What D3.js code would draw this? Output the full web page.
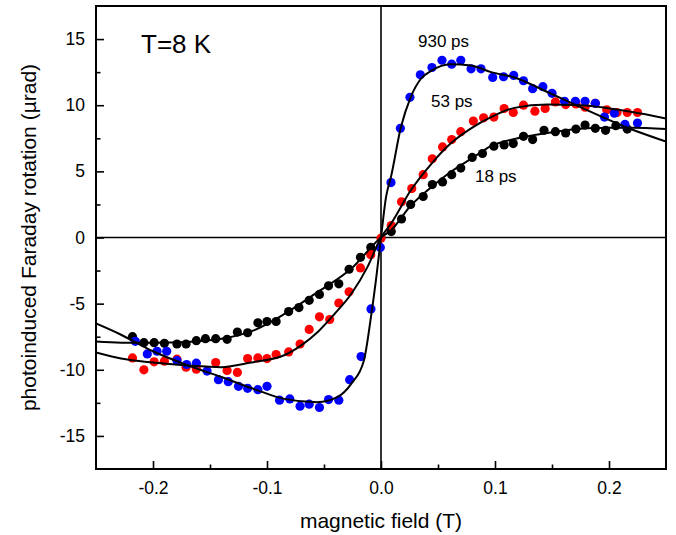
<!DOCTYPE html>
<html><head><meta charset="utf-8">
<script src="https://cdn.jsdelivr.net/npm/d3@7"></script>
<style>body{margin:0;background:#fff}svg{display:block}text{font-family:"Liberation Sans",Arial,sans-serif}</style>
</head><body><svg id="c" width="676" height="535"></svg>
<script>
// ---- data ----
const xTicksMajor = [-0.2, -0.1, 0.0, 0.1, 0.2];
const yTicksMajor = [-15, -10, -5, 0, 5, 10, 15];

const black18x = [-0.218,-0.208,-0.199,-0.190,-0.179,-0.171,-0.162,-0.154,-0.145,-0.135,-0.126,-0.117,-0.108,-0.100,-0.092,-0.081,-0.072,-0.063,-0.054,-0.046,-0.037,-0.028,-0.018,-0.009,0.009,0.018,0.026,0.037,0.045,0.054,0.062,0.070,0.080,0.089,0.099,0.108,0.116,0.125,0.133,0.143,0.153,0.162,0.171,0.179,0.188,0.197,0.206,0.216];
const black18y = [-7.5,-7.95,-7.95,-8.0,-8.05,-8.05,-7.8,-7.65,-7.65,-7.7,-7.15,-7.2,-6.45,-6.35,-6.35,-5.6,-5.3,-4.75,-4.3,-3.65,-3.5,-2.4,-1.5,-0.75,0.45,1.4,2.5,3.1,4.0,4.2,4.75,5.25,6.05,6.35,6.9,7.0,7.1,7.65,7.4,8.1,8.0,7.9,8.2,8.5,8.25,8.1,8.45,8.2];

const red53x = [-0.218,-0.208,-0.199,-0.190,-0.179,-0.171,-0.162,-0.145,-0.135,-0.126,-0.117,-0.108,-0.100,-0.092,-0.081,-0.071,-0.063,-0.054,-0.045,-0.037,-0.028,-0.018,-0.009,0,0.009,0.018,0.027,0.037,0.045,0.054,0.062,0.070,0.081,0.090,0.099,0.108,0.116,0.125,0.135,0.144,0.153,0.162,0.171,0.179,0.188,0.198,0.207,0.216,0.225];
const red53y = [-9.1,-10.0,-9.4,-9.35,-9.2,-9.8,-9.95,-9.45,-10.05,-10.2,-9.15,-9.1,-9.15,-8.85,-8.65,-8.05,-6.95,-6.0,-6.2,-4.95,-4.1,-2.3,-1.3,-0.05,0.9,2.7,3.7,4.75,5.95,6.85,7.4,8.0,8.8,9.05,9.1,9.75,9.45,10.0,9.55,9.75,10.25,10.05,10.1,9.85,10.15,9.65,9.45,9.45,9.45];

const blue930x = [-0.2155,-0.205,-0.1965,-0.188,-0.179,-0.1705,-0.162,-0.1526,-0.1426,-0.134,-0.125,-0.117,-0.108,-0.100,-0.089,-0.080,-0.071,-0.063,-0.054,-0.046,-0.037,-0.0275,-0.0175,-0.0088,-0.0006,0.0088,0.017,0.0254,0.0345,0.0447,0.0535,0.062,0.070,0.079,0.0877,0.098,0.1075,0.1164,0.125,0.133,0.142,0.150,0.161,0.1705,0.179,0.188,0.196,0.2047,0.214,0.225];
const blue930y = [-7.85,-8.8,-8.6,-8.6,-9.3,-9.6,-9.5,-10.1,-10.75,-10.9,-11.25,-11.4,-11.5,-11.25,-12.3,-12.2,-12.75,-12.6,-12.85,-12.25,-12.3,-10.75,-9.0,-5.4,-0.75,4.15,8.25,10.6,12.3,12.85,13.4,13.1,13.4,12.75,12.75,12.1,12.15,12.25,11.85,11.25,11.4,10.9,10.3,10.3,10.3,10.15,9.1,9.4,8.55,8.65];

// fitted curves
const fit18x = [-0.25,-0.228,-0.199,-0.17,-0.14,-0.111,-0.085,-0.056,-0.026,0,0.0088,0.026,0.044,0.061,0.079,0.0965,0.12,0.15,0.18,0.2,0.22,0.25];
const fit18y = [-7.86,-7.95,-7.96,-7.9,-7.66,-7.0,-5.8,-4.15,-2.35,0,0.55,2.4,3.8,4.95,5.95,6.9,7.5,7.95,8.25,8.3,8.3,8.2];
const fit53x = [-0.25,-0.228,-0.2,-0.17,-0.14,-0.114,-0.085,-0.07,-0.055,-0.041,-0.026,-0.0117,0,0.0088,0.026,0.044,0.061,0.079,0.0965,0.117,0.146,0.175,0.219,0.25];
const fit53y = [-8.7,-9.15,-9.45,-9.67,-9.8,-9.45,-8.9,-8.15,-7.1,-5.8,-4.25,-2.2,0,1.05,3.55,5.55,7.1,8.25,9.1,9.8,10.05,10.0,9.5,9.0];
const fit930x = [-0.25,-0.228,-0.2,-0.17,-0.14,-0.11,-0.085,-0.056,-0.038,-0.026,-0.015,-0.0088,-0.0044,0,0.0044,0.0088,0.0175,0.026,0.035,0.044,0.061,0.079,0.0965,0.117,0.146,0.175,0.219,0.25];
const fit930y = [-6.5,-7.35,-8.6,-9.65,-10.55,-11.5,-12.2,-12.45,-12.05,-11.05,-9.3,-6.0,-3.2,0,3.05,4.6,8.35,10.6,12.0,12.6,13.1,13.0,12.5,12.1,11.0,9.85,8.2,7.25];

const seriesLabels = ["18 ps", "53 ps", "930 ps"];
const tempLabel = "T=8 K";

// ---- drawing ----
const svg = d3.select("#c");
const L = 96, R = 666, T = 6, B = 469;
const x = d3.scaleLinear().domain([-0.25, 0.25]).range([L, R]);
const y = d3.scaleLinear().domain([-17.5, 17.5]).range([B, T]);

const g = svg.append("g");
svg.append("clipPath").attr("id","clip").append("rect").attr("x",L).attr("y",T).attr("width",R-L).attr("height",B-T);

// zero lines
g.append("line").attr("x1",L).attr("x2",R).attr("y1",y(0)).attr("y2",y(0)).attr("stroke","#000").attr("stroke-width",1.6);
g.append("line").attr("x1",x(0)).attr("x2",x(0)).attr("y1",T).attr("y2",B).attr("stroke","#000").attr("stroke-width",1.6);

// axes
const xAxis = d3.axisBottom(x).tickValues(xTicksMajor).tickSize(-8).tickPadding(13).tickFormat(d => d3.format(".1f")(d).replace("\u2212","-"));
const xMinor = d3.axisBottom(x).tickValues([-0.15,-0.05,0.05,0.15]).tickSize(-4.5).tickFormat("");
const yAxis = d3.axisLeft(y).tickValues(yTicksMajor).tickSize(-8).tickPadding(11).tickFormat(d => String(d));
const yMinor = d3.axisLeft(y).tickValues([-12.5,-7.5,-2.5,2.5,7.5,12.5]).tickSize(-4.5).tickFormat("");

function style(sel){
  sel.select(".domain").remove();
  sel.selectAll("line").attr("stroke","#000").attr("stroke-width",1.6);
  sel.selectAll("text").attr("fill","#000").style("font-size","17.5px").style("font-family","'Liberation Sans',Arial,sans-serif");
}
svg.append("g").attr("transform",`translate(0,${B})`).call(xAxis).call(style);
svg.append("g").attr("transform",`translate(0,${B})`).call(xMinor).call(style);
svg.append("g").attr("transform",`translate(${L},0)`).call(yAxis).call(style);
svg.append("g").attr("transform",`translate(${L},0)`).call(yMinor).call(style);

// frame
svg.append("rect").attr("x",L).attr("y",T).attr("width",R-L).attr("height",B-T).attr("fill","none").attr("stroke","#000").attr("stroke-width",2);

// dots
const plot = svg.append("g").attr("clip-path","url(#clip)");
const sets = [[black18x,black18y,"#000000"],[red53x,red53y,"#ff0000"],[blue930x,blue930y,"#0000ff"]];
sets.forEach(([xs,ys,col]) => {
  plot.append("g").selectAll("circle").data(xs.map((v,i)=>[v,ys[i]])).join("circle")
    .attr("cx",d=>x(d[0])).attr("cy",d=>y(d[1])).attr("r",4.6).attr("fill",col);
});

// fit lines
const line = d3.line().x(d=>x(d[0])).y(d=>y(d[1])).curve(d3.curveMonotoneX);
[[fit18x,fit18y],[fit53x,fit53y],[fit930x,fit930y]].forEach(([xs,ys]) => {
  plot.append("path").datum(xs.map((v,i)=>[v,ys[i]])).attr("d",line).attr("fill","none").attr("stroke","#000").attr("stroke-width",2);
});

// labels
svg.append("text").attr("x",141).attr("y",53).style("font-size","26px").text(tempLabel);
svg.append("text").attr("x",418).attr("y",47).style("font-size","17px").text(seriesLabels[2]);
svg.append("text").attr("x",431).attr("y",107).style("font-size","17px").text(seriesLabels[1]);
svg.append("text").attr("x",475).attr("y",182).style("font-size","17px").text(seriesLabels[0]);

// axis titles
svg.append("text").attr("x",(L+R)/2).attr("y",528).attr("text-anchor","middle").style("font-size","21px").text("magnetic field (T)");
svg.append("text").attr("transform",`translate(36,${(T+B)/2}) rotate(-90)`).attr("text-anchor","middle").style("font-size","21px").text("photoinduced Faraday rotation (\u00b5rad)");
</script></body></html>
